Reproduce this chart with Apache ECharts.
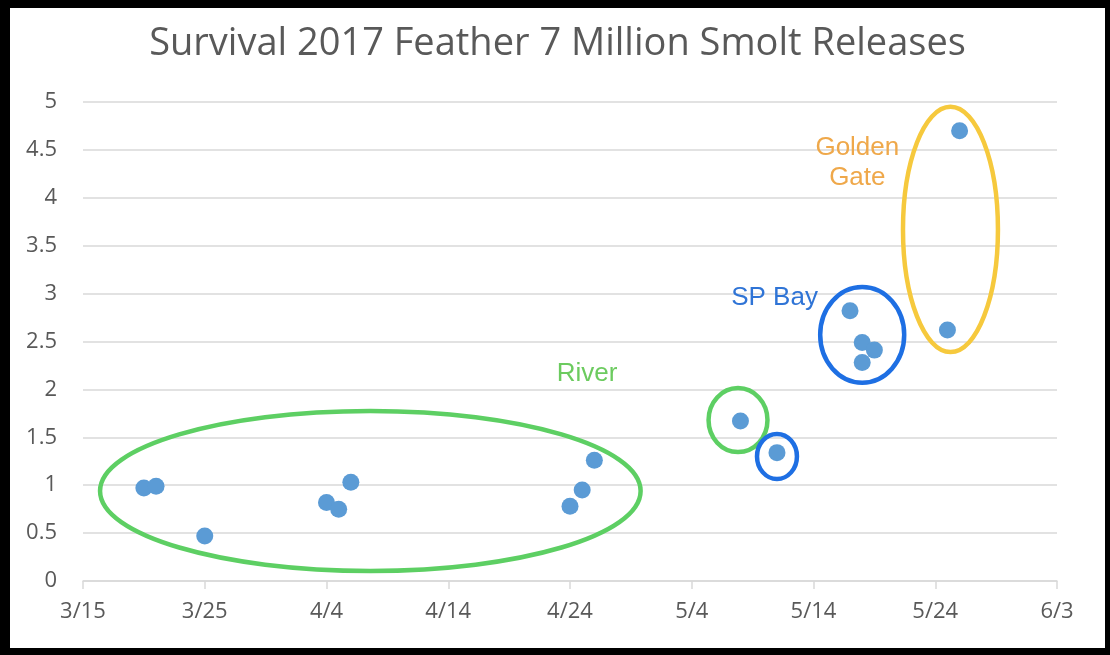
<!DOCTYPE html>
<html>
<head>
<meta charset="utf-8">
<script src="https://cdn.jsdelivr.net/npm/echarts@6/dist/echarts.min.js"></script>
<style>
  html, body { margin: 0; padding: 0; background: #000; }
  #chart { position: absolute; left: 10px; top: 8px; width: 1095px; height: 640px; background: #fff; }
</style>
</head>
<body>
<div id="chart"></div>
<script>
// 데이터 (release date, survival %)
const releaseDates = ['3/20', '3/21', '3/25', '4/4', '4/5', '4/6', '4/24', '4/25', '4/26',
  '5/8', '5/11', '5/17', '5/18', '5/19', '5/18', '5/25', '5/26'];
const survival = [0.97, 0.99, 0.47, 0.82, 0.75, 1.03, 0.78, 0.95, 1.26,
  1.67, 1.34, 2.82, 2.49, 2.41, 2.28, 2.62, 4.70];
const xTickStart = '3/15';
const yTicks = [0, 0.5, 1, 1.5, 2, 2.5, 3, 3.5, 4, 4.5, 5];

// 그룹 표시 (center: days after 3/15, value / radius: days, value)
const groupNames = ['River', 'River', 'SP Bay', 'SP Bay', 'Golden Gate'];
const groupCenters = [[23.6, 0.94], [53.8, 1.68], [57.0, 1.30], [64.0, 2.57], [71.25, 3.67]];
const groupRadii = [[22.2, 0.835], [2.42, 0.334], [1.64, 0.235], [3.45, 0.50], [3.9, 1.28]];
const groupLabelPos = [[41.4, 2.16], [56.8, 2.96], [63.6, 4.37]];

const colors = { River: '#5dcf63', 'SP Bay': '#1e6fe3', 'Golden Gate': '#f6c93d' };
const labelColors = { River: '#6ccb5f', 'SP Bay': '#2f74d6', 'Golden Gate': '#efa84a' };

const dayOf = s => {
  const [m, d] = s.split('/').map(Number);
  return Math.round((Date.UTC(2017, m - 1, d) - Date.UTC(2017, 2, 15)) / 86400000);
};
const labelOf = v => {
  const t = new Date(Date.UTC(2017, 2, 15) + v * 86400000);
  return (t.getUTCMonth() + 1) + '/' + t.getUTCDate();
};

const axisFont = "'Open Sans', sans-serif";
const chart = echarts.init(document.getElementById('chart'));

chart.setOption({
  animation: false,
  title: {
    text: 'Survival 2017 Feather 7 Million Smolt Releases',
    left: 'center',
    top: 12,
    textStyle: { fontFamily: axisFont, fontSize: 38, fontWeight: 'normal', color: '#595959' }
  },
  grid: { left: 73, right: 48, top: 94, bottom: 67 },
  xAxis: {
    type: 'value',
    min: dayOf(xTickStart),
    max: dayOf(xTickStart) + 80,
    interval: 10,
    axisLine: { show: true, lineStyle: { color: '#d9d9d9', width: 1.5 } },
    axisTick: { show: true, length: 8, lineStyle: { color: '#d9d9d9', width: 1.5 } },
    splitLine: { show: false },
    axisLabel: { formatter: labelOf, fontFamily: axisFont, fontSize: 22, color: '#595959', margin: 20 }
  },
  yAxis: {
    type: 'value',
    min: yTicks[0],
    max: yTicks[yTicks.length - 1],
    interval: 0.5,
    axisLine: { show: false },
    axisTick: { show: false },
    splitLine: { lineStyle: { color: '#d9d9d9', width: 1.5 } },
    axisLabel: { fontFamily: axisFont, fontSize: 22, color: '#595959', margin: 26 }
  },
  series: [{
    type: 'scatter',
    symbolSize: 17,
    itemStyle: { color: '#5b9bd5', opacity: 1 },
    data: releaseDates.map((d, i) => [dayOf(d), survival[i]])
  }]
});

// 타원 + 라벨 (데이터 좌표 -> 픽셀)
const toPx = (d, v) => chart.convertToPixel({ gridIndex: 0 }, [d, v]);
const ellipses = groupCenters.map((c, i) => {
  const p = toPx(c[0], c[1]);
  const q = toPx(c[0] + groupRadii[i][0], c[1] + groupRadii[i][1]);
  return {
    type: 'ellipse',
    z: 10,
    shape: { cx: p[0], cy: p[1], rx: Math.abs(q[0] - p[0]), ry: Math.abs(p[1] - q[1]) },
    style: { fill: null, stroke: colors[groupNames[i]], lineWidth: 4.5 }
  };
});
const labelNames = ['River', 'SP Bay', 'Golden Gate'];
const labels = groupLabelPos.map((c, i) => {
  const p = toPx(c[0], c[1]);
  return {
    type: 'text',
    z: 11,
    x: p[0],
    y: p[1],
    style: {
      text: labelNames[i] === 'Golden Gate' ? 'Golden\nGate' : labelNames[i],
      fill: labelColors[labelNames[i]],
      font: "26px 'Liberation Sans', Arial, sans-serif",
      align: 'center',
      verticalAlign: 'middle',
      lineHeight: 30
    }
  };
});
chart.setOption({ graphic: ellipses.concat(labels) });
</script>
</body>
</html>
